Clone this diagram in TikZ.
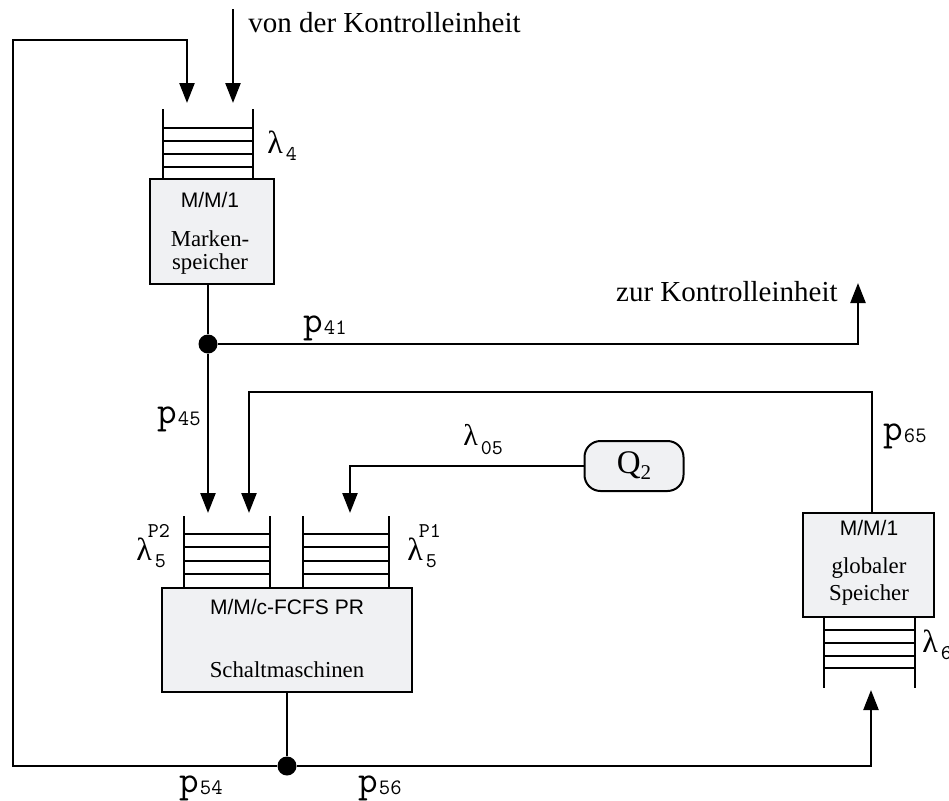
\documentclass[tikz,border=0pt]{standalone}
\usepackage{fontspec}
\setmainfont{Liberation Serif}
\setsansfont{Liberation Sans}
\usetikzlibrary{arrows.meta}
\definecolor{boxgray}{HTML}{F0F1F3}
\newcommand\plab[1]{{\ttfamily\fontsize{19}{19}\selectfont p\hspace{0.5pt}\raisebox{-1pt}{\fontsize{11}{11}\selectfont #1}}}
\newcommand\lsub[1]{{\fontsize{16}{16}\selectfont λ\hspace{1.5pt}\raisebox{-3.5pt}{\ttfamily\fontsize{10.5}{10}\selectfont #1}}}
\newcommand\lsubsup[2]{{\fontsize{16}{16}\selectfont λ\hspace{-2pt}\rlap{\raisebox{11.5pt}{\ttfamily\fontsize{10.5}{10}\selectfont #2}}\hspace{3.5pt}\raisebox{-3.5pt}{\ttfamily\fontsize{10.5}{10}\selectfont #1}}}
\begin{document}
\begin{tikzpicture}[x=0.5pt,y=-0.5pt,
  line/.style={line width=1.2pt,draw=black},
  arr/.style={line width=1.2pt,draw=black,-{Triangle[length=10pt,width=7.5pt]}},
  box/.style={draw=black,line width=1pt,fill=boxgray,inner sep=0pt},
  ql/.style={line width=1pt},
  dot/.style={circle,fill=black,inner sep=0pt,minimum size=9.5pt},
  big/.style={font=\fontsize{14.5}{17}\selectfont,inner sep=0pt},
  serif/.style={font=\fontsize{11.4}{13}\selectfont,inner sep=0pt},
  sans/.style={font=\sffamily\fontsize{10.5}{12}\selectfont,inner sep=0pt},
  lab/.style={inner sep=0pt,anchor=base west}]
\useasboundingbox (0,0) rectangle (949,800);
\clip (0,0) rectangle (949,800);

% boxes
\node[box,minimum width=62pt,minimum height=52.5pt] (box4) at (212,231.5) {};
\node[box,minimum width=125pt,minimum height=52pt] (box5) at (287,640) {};
\node[box,minimum width=65.5pt,minimum height=52pt] (box6) at (868.5,565) {};
\node[box,rounded corners=8pt,minimum width=49.5pt,minimum height=25pt] (q2) at (634,466) {};
\node[inner sep=0pt,font=\fontsize{16.5}{18}\selectfont] at (q2) {Q\raisebox{-3pt}{\fontsize{10.5}{12}\selectfont 2}};

% box texts
\node[sans,anchor=base] at (210,207) {M/M/1};
\node[serif,anchor=base] at (210,246) {Marken-};
\node[serif,anchor=base] at (210,269) {speicher};
\node[sans,anchor=base] at (287,614) {M/M/c-FCFS PR};
\node[serif,anchor=base] at (287,677) {Schaltmaschinen};
\node[sans,anchor=base] at (869,535) {M/M/1};
\node[serif,anchor=base] at (869,573) {globaler};
\node[serif,anchor=base] at (869,600) {Speicher};

% queues
\foreach \xa/\xb/\ya/\yb/\la/\lb/\lc/\ld in
  {163/253/109/179/128/141/154/167,
   184/270/516/588/534/547/561/574,
   303/389/516/588/534/547/561/574,
   824/915/617/688/630/643/656/668}{
  \draw[ql] (\xa,\ya) -- (\xa,\yb) (\xb,\ya) -- (\xb,\yb);
  \foreach \yy in {\la,\lb,\lc,\ld} \draw[ql] (\xa,\yy) -- (\xb,\yy);
}

% junctions and coordinates
\node[dot] (j1) at (208,344) {};
\node[dot] (j2) at (287,766) {};
\coordinate (q4in1) at (187,103);
\coordinate (q4in2) at (233,103);
\coordinate (von) at (233,9);
\coordinate (zur) at (858,283);
\coordinate (q5a1) at (208,513);
\coordinate (q5a2) at (249,513);
\coordinate (q5b) at (350,513);
\coordinate (q6in) at (871,690);

% connectors
\draw[arr] (von) -- (q4in2);
\draw[arr] (j2) -- (13,766) -- (13,40) -- (187,40) -- (q4in1);
\draw[line] (box4.south -| j1) -- (j1);
\draw[arr] (j1) -- (858,344) -- (zur);
\draw[arr] (j1) -- (q5a1);
\draw[arr] (872,513) -- (872,392) -- (249,392) -- (q5a2);
\draw[arr] (q2.west) -- (350,466) -- (q5b);
\draw[line] (box5.south) -- (j2);
\draw[arr] (j2) -- (871,766) -- (q6in);

% texts
\node[big,anchor=base west] at (248,32) {von der Kontrolleinheit};
\node[big,anchor=base east] at (838,301) {zur Kontrolleinheit};

\node[lab] at (303,332) {\plab{41}};
\node[lab] at (157,423) {\plab{45}};
\node[lab] at (883,440) {\plab{65}};
\node[lab] at (179,792) {\plab{54}};
\node[lab] at (358,792) {\plab{56}};

\node[lab] at (267,153) {\lsub{4}};
\node[lab] at (922,652) {\lsub{6}};
\node[lab] at (407,560) {\lsubsup{5}{P1}};
\node[lab] at (136,560) {\lsubsup{5}{P2}};
\node[lab] at (463,445) {{\fontsize{15}{15}\selectfont λ\hspace{1.5pt}\raisebox{-4.5pt}{\ttfamily\fontsize{10.5}{10}\selectfont 05}}};
\end{tikzpicture}
\end{document}
